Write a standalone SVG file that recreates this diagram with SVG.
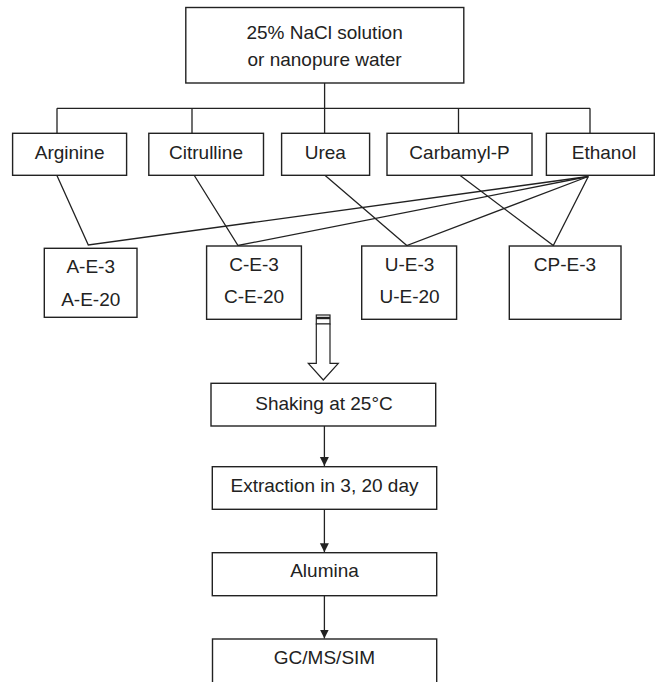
<svg xmlns="http://www.w3.org/2000/svg" width="661" height="682" viewBox="0 0 661 682">
<defs>
<style>
.box{fill:#fff;stroke:#222;stroke-width:1.4}
.ln{fill:none;stroke:#222;stroke-width:1.3}
text{font-family:"Liberation Sans",Arial,sans-serif;font-size:19px;fill:#222;text-anchor:middle}
</style>
<marker id="ah" markerWidth="10" markerHeight="10" refX="9" refY="5" orient="auto" markerUnits="userSpaceOnUse">
<path d="M0,0.5 L9,5 L0,9.5 Z" fill="#222"/>
</marker>
</defs>
<rect width="661" height="682" fill="#fff"/>
<g id="connectors">
<path class="ln" d="M324.6,83 V108.3 M57,108.3 H590 M57,108.3 V133 M192,108.3 V133 M324.6,108.3 V133 M458.5,108.3 V133 M590,108.3 V133"/>
<path class="ln" d="M56.7,175 L88.3,245 L588.3,176.5"/>
<path class="ln" d="M194,175 L238,245.5 L588.3,176.5"/>
<path class="ln" d="M324.6,175 L406.8,245.5 L588.3,176.5"/>
<path class="ln" d="M459.5,175 L553.3,245.5 L588.3,176.5"/>
<line class="ln" x1="324.4" y1="426" x2="324.4" y2="466" marker-end="url(#ah)"/>
<line class="ln" x1="324.4" y1="509.3" x2="324.4" y2="552.2" marker-end="url(#ah)"/>
<line class="ln" x1="324.4" y1="595.7" x2="324.4" y2="638.5" marker-end="url(#ah)"/>
<g id="vial-arrow">
<rect x="316.3" y="315" width="13.7" height="2.4" fill="none" stroke="#222" stroke-width="1.2"/>
<rect x="316.3" y="318.6" width="13.7" height="5.4" fill="none" stroke="#222" stroke-width="1.2"/>
<path d="M316.3,324 V363.3 H308.3 L323.3,380 L338.3,363.3 H330 V324 Z" fill="#fff" stroke="#222" stroke-width="1.2"/>
</g>
</g>
<g id="source"><rect class="box" x="185.8" y="7.5" width="278" height="75.5"/><text x="324.6" y="38.5">25% NaCl solution</text><text x="324.6" y="66">or nanopure water</text></g>
<g id="arginine"><rect class="box" x="12.6" y="133.3" width="114" height="42"/><text x="69.6" y="158.5">Arginine</text></g>
<g id="citrulline"><rect class="box" x="148.8" y="133.3" width="114.7" height="42"/><text x="206" y="158.5">Citrulline</text></g>
<g id="urea"><rect class="box" x="281.6" y="133.3" width="88" height="42"/><text x="325.3" y="158.5">Urea</text></g>
<g id="carbamyl"><rect class="box" x="387" y="133.3" width="145" height="42"/><text x="459.5" y="158.5">Carbamyl-P</text></g>
<g id="ethanol"><rect class="box" x="546.4" y="133.3" width="107.9" height="42"/><text x="604" y="158.5">Ethanol</text></g>
<g id="ae"><rect class="box" x="44.3" y="248.3" width="92.7" height="69"/><text x="90.7" y="273.3">A-E-3</text><text x="90.7" y="305.7">A-E-20</text></g>
<g id="ce"><rect class="box" x="206.6" y="246" width="94.8" height="73.3"/><text x="254" y="271">C-E-3</text><text x="254" y="303.3">C-E-20</text></g>
<g id="ue"><rect class="box" x="361.7" y="246" width="94.9" height="73.3"/><text x="409.5" y="271">U-E-3</text><text x="409.5" y="303.3">U-E-20</text></g>
<g id="cpe"><rect class="box" x="509.3" y="246" width="111.7" height="73.3"/><text x="565" y="271">CP-E-3</text></g>
<g id="shaking"><rect class="box" x="211" y="383.3" width="224.7" height="42.7"/><text x="324" y="410">Shaking at 25°C</text></g>
<g id="extraction"><rect class="box" x="212.3" y="466.7" width="224.4" height="42.6"/><text x="324.5" y="491.7">Extraction in 3, 20 day</text></g>
<g id="alumina"><rect class="box" x="212.3" y="552.7" width="224.4" height="43"/><text x="324.5" y="576.7">Alumina</text></g>
<g id="gcms"><rect class="box" x="212.5" y="639" width="224.2" height="60"/><text x="324.5" y="664">GC/MS/SIM</text></g>
</svg>
